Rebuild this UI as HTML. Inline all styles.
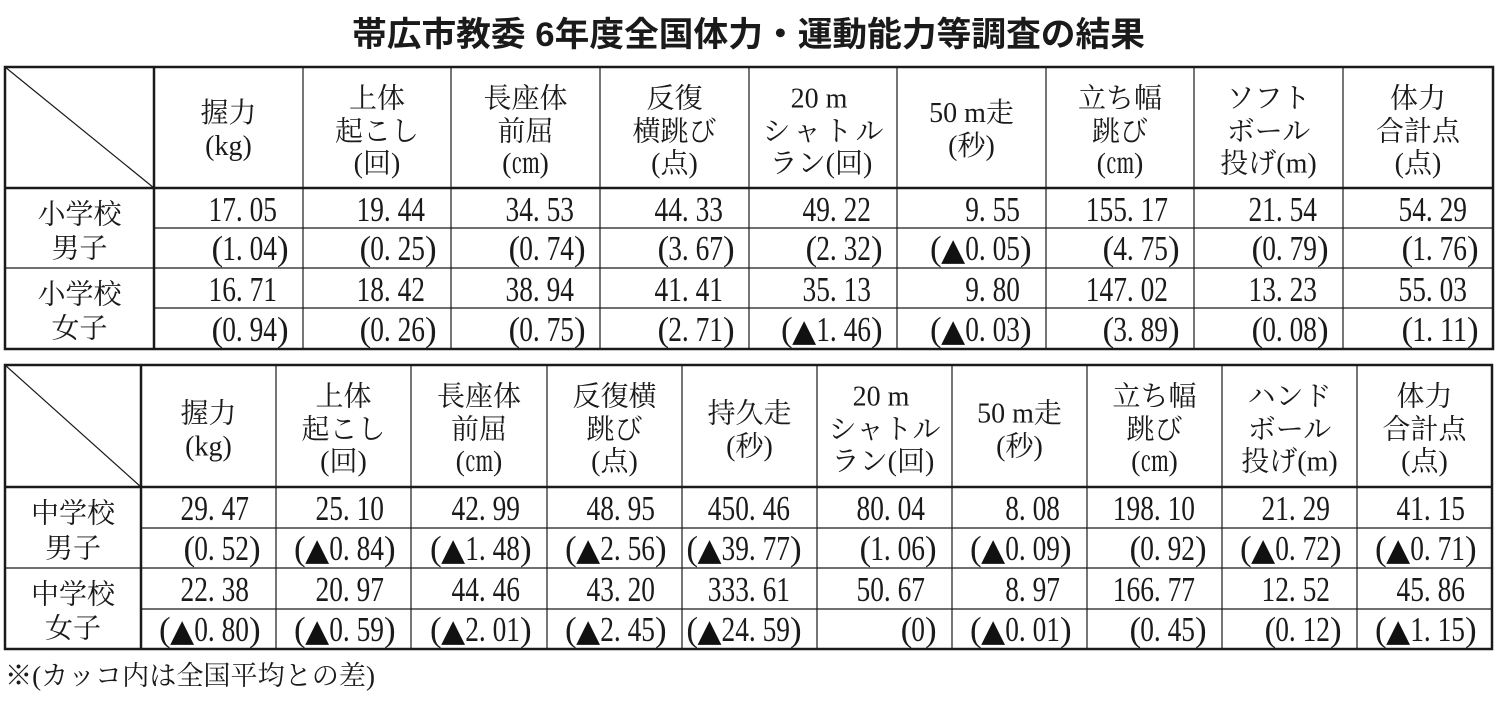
<!DOCTYPE html>
<html><head><meta charset="utf-8">
<style>
html,body{margin:0;padding:0;background:#fff;}
svg{display:block;}
.n{font-family:"Liberation Serif",serif;font-size:35px;fill:#1a1a1a;}
.e{text-anchor:end;}
.t{font-family:"DejaVu Sans",sans-serif;font-size:31px;fill:#111;}
.h{font-family:"Liberation Serif","Noto Serif CJK SC",serif;font-size:28px;fill:#1a1a1a;text-anchor:middle;}
.hs{font-family:"Liberation Serif","Noto Serif CJK SC",serif;font-size:28px;fill:#1a1a1a;}
.ti{font-family:"Liberation Sans","Noto Sans CJK JP",sans-serif;font-size:34px;font-weight:700;fill:#1a1a1a;}
.f{font-family:"Liberation Serif","Noto Serif CJK SC",serif;font-size:27px;fill:#1a1a1a;}
.L{stroke:#1a1a1a;fill:none;}
</style></head><body>
<svg width="1500" height="702" viewBox="0 0 1500 702" xmlns="http://www.w3.org/2000/svg">
<rect x="0" y="0" width="1500" height="702" fill="#fff"/>
<text class="ti" x="352" y="46" textLength="793" lengthAdjust="spacingAndGlyphs">帯広市教委 6年度全国体力・運動能力等調査の結果</text>

<!-- TABLE 1 lines -->
<g class="L" stroke-width="1.2">
<line x1="303" y1="67" x2="303" y2="349"/><line x1="451" y1="67" x2="451" y2="349"/>
<line x1="600" y1="67" x2="600" y2="349"/><line x1="749" y1="67" x2="749" y2="349"/>
<line x1="897" y1="67" x2="897" y2="349"/><line x1="1046" y1="67" x2="1046" y2="349"/>
<line x1="1194" y1="67" x2="1194" y2="349"/><line x1="1343" y1="67" x2="1343" y2="349"/>
<line x1="154" y1="228" x2="1493" y2="228"/><line x1="154" y1="308" x2="1493" y2="308"/>
<line x1="5" y1="268" x2="1493" y2="268"/>
<line x1="5" y1="67" x2="154" y2="188"/>
</g>
<g class="L" stroke-width="2.5">
<rect x="5" y="67" width="1488" height="282"/>
<line x1="5" y1="188" x2="1493" y2="188"/>
<line x1="154" y1="67" x2="154" y2="349"/>
</g>

<!-- TABLE 1 headers -->
<text class="h" x="228.5" y="122">握力</text><text class="h" x="228.5" y="155">(kg)</text>
<text class="h" x="377" y="107.5">上体</text><text class="h" x="377" y="140.5">起こし</text><text class="h" x="377" y="172.5">(回)</text>
<text class="h" x="525.5" y="107.5">長座体</text><text class="h" x="525.5" y="140.5">前屈</text><text class="h" x="525.5" y="172.5">(㎝)</text>
<text class="h" x="674.5" y="107.5">反復</text><text class="h" x="674.5" y="140.5">横跳び</text><text class="h" x="674.5" y="172.5">(点)</text>
<text class="h" x="819" y="107.5">20 m</text><text class="hs" x="762.5" y="140.5" textLength="121" lengthAdjust="spacing">シャトル</text><text class="h" x="821" y="172.5">ラン(回)</text>
<text class="h" x="971.5" y="122">50 m走</text><text class="h" x="971.5" y="155">(秒)</text>
<text class="h" x="1120" y="107.5">立ち幅</text><text class="h" x="1120" y="140.5">跳び</text><text class="h" x="1120" y="172.5">(㎝)</text>
<text class="h" x="1268.5" y="107.5">ソフト</text><text class="h" x="1268.5" y="140.5">ボール</text><text class="h" x="1268.5" y="172.5">投げ(m)</text>
<text class="h" x="1418" y="107.5">体力</text><text class="h" x="1418" y="140.5">合計点</text><text class="h" x="1418" y="172.5">(点)</text>

<!-- TABLE 1 row labels -->
<text class="h" x="79.5" y="223.5">小学校</text><text class="h" x="79.5" y="257.5">男子</text>
<text class="h" x="79.5" y="303.5">小学校</text><text class="h" x="79.5" y="337.5">女子</text>

<!-- TABLE 1 row A -->
<g class="n">
<text x="208.5" y="221" textLength="68.5" lengthAdjust="spacingAndGlyphs">17. 05</text>
<text x="356.5" y="221" textLength="68.5" lengthAdjust="spacingAndGlyphs">19. 44</text>
<text x="505.5" y="221" textLength="68.5" lengthAdjust="spacingAndGlyphs">34. 53</text>
<text x="654.5" y="221" textLength="68.5" lengthAdjust="spacingAndGlyphs">44. 33</text>
<text x="802.5" y="221" textLength="68.5" lengthAdjust="spacingAndGlyphs">49. 22</text>
<text x="965.2" y="221" textLength="54.8" lengthAdjust="spacingAndGlyphs">9. 55</text>
<text x="1085.8" y="221" textLength="82.2" lengthAdjust="spacingAndGlyphs">155. 17</text>
<text x="1248.5" y="221" textLength="68.5" lengthAdjust="spacingAndGlyphs">21. 54</text>
<text x="1398.5" y="221" textLength="68.5" lengthAdjust="spacingAndGlyphs">54. 29</text>
</g>
<!-- TABLE 1 row B -->
<g class="n">
<text class="e" x="223.2" y="260">(</text><text x="222.2" y="260" textLength="54.8" lengthAdjust="spacingAndGlyphs">1. 04</text><text x="277" y="260">)</text>
<text class="e" x="371.2" y="260">(</text><text x="370.2" y="260" textLength="54.8" lengthAdjust="spacingAndGlyphs">0. 25</text><text x="425" y="260">)</text>
<text class="e" x="520.2" y="260">(</text><text x="519.2" y="260" textLength="54.8" lengthAdjust="spacingAndGlyphs">0. 74</text><text x="574" y="260">)</text>
<text class="e" x="669.2" y="260">(</text><text x="668.2" y="260" textLength="54.8" lengthAdjust="spacingAndGlyphs">3. 67</text><text x="723" y="260">)</text>
<text class="e" x="817.2" y="260">(</text><text x="816.2" y="260" textLength="54.8" lengthAdjust="spacingAndGlyphs">2. 32</text><text x="871" y="260">)</text>
<text class="e" x="941.7" y="260">(</text><text class="t" x="941.2" y="260" textLength="24" lengthAdjust="spacingAndGlyphs">▲</text><text x="965.2" y="260" textLength="54.8" lengthAdjust="spacingAndGlyphs">0. 05</text><text x="1020" y="260">)</text>
<text class="e" x="1114.2" y="260">(</text><text x="1113.2" y="260" textLength="54.8" lengthAdjust="spacingAndGlyphs">4. 75</text><text x="1168" y="260">)</text>
<text class="e" x="1263.2" y="260">(</text><text x="1262.2" y="260" textLength="54.8" lengthAdjust="spacingAndGlyphs">0. 79</text><text x="1317" y="260">)</text>
<text class="e" x="1413.2" y="260">(</text><text x="1412.2" y="260" textLength="54.8" lengthAdjust="spacingAndGlyphs">1. 76</text><text x="1467" y="260">)</text>
</g>
<!-- TABLE 1 row C -->
<g class="n">
<text x="208.5" y="301" textLength="68.5" lengthAdjust="spacingAndGlyphs">16. 71</text>
<text x="356.5" y="301" textLength="68.5" lengthAdjust="spacingAndGlyphs">18. 42</text>
<text x="505.5" y="301" textLength="68.5" lengthAdjust="spacingAndGlyphs">38. 94</text>
<text x="654.5" y="301" textLength="68.5" lengthAdjust="spacingAndGlyphs">41. 41</text>
<text x="802.5" y="301" textLength="68.5" lengthAdjust="spacingAndGlyphs">35. 13</text>
<text x="965.2" y="301" textLength="54.8" lengthAdjust="spacingAndGlyphs">9. 80</text>
<text x="1085.8" y="301" textLength="82.2" lengthAdjust="spacingAndGlyphs">147. 02</text>
<text x="1248.5" y="301" textLength="68.5" lengthAdjust="spacingAndGlyphs">13. 23</text>
<text x="1398.5" y="301" textLength="68.5" lengthAdjust="spacingAndGlyphs">55. 03</text>
</g>
<!-- TABLE 1 row D -->
<g class="n">
<text class="e" x="223.2" y="341">(</text><text x="222.2" y="341" textLength="54.8" lengthAdjust="spacingAndGlyphs">0. 94</text><text x="277" y="341">)</text>
<text class="e" x="371.2" y="341">(</text><text x="370.2" y="341" textLength="54.8" lengthAdjust="spacingAndGlyphs">0. 26</text><text x="425" y="341">)</text>
<text class="e" x="520.2" y="341">(</text><text x="519.2" y="341" textLength="54.8" lengthAdjust="spacingAndGlyphs">0. 75</text><text x="574" y="341">)</text>
<text class="e" x="669.2" y="341">(</text><text x="668.2" y="341" textLength="54.8" lengthAdjust="spacingAndGlyphs">2. 71</text><text x="723" y="341">)</text>
<text class="e" x="792.7" y="341">(</text><text class="t" x="792.2" y="341" textLength="24" lengthAdjust="spacingAndGlyphs">▲</text><text x="816.2" y="341" textLength="54.8" lengthAdjust="spacingAndGlyphs">1. 46</text><text x="871" y="341">)</text>
<text class="e" x="941.7" y="341">(</text><text class="t" x="941.2" y="341" textLength="24" lengthAdjust="spacingAndGlyphs">▲</text><text x="965.2" y="341" textLength="54.8" lengthAdjust="spacingAndGlyphs">0. 03</text><text x="1020" y="341">)</text>
<text class="e" x="1114.2" y="341">(</text><text x="1113.2" y="341" textLength="54.8" lengthAdjust="spacingAndGlyphs">3. 89</text><text x="1168" y="341">)</text>
<text class="e" x="1263.2" y="341">(</text><text x="1262.2" y="341" textLength="54.8" lengthAdjust="spacingAndGlyphs">0. 08</text><text x="1317" y="341">)</text>
<text class="e" x="1413.2" y="341">(</text><text x="1412.2" y="341" textLength="54.8" lengthAdjust="spacingAndGlyphs">1. 11</text><text x="1467" y="341">)</text>
</g>

<!-- TABLE 2 lines -->
<g class="L" stroke-width="1.2">
<line x1="276" y1="365" x2="276" y2="649"/><line x1="411" y1="365" x2="411" y2="649"/>
<line x1="547" y1="365" x2="547" y2="649"/><line x1="682" y1="365" x2="682" y2="649"/>
<line x1="817" y1="365" x2="817" y2="649"/><line x1="952" y1="365" x2="952" y2="649"/>
<line x1="1087" y1="365" x2="1087" y2="649"/><line x1="1222" y1="365" x2="1222" y2="649"/>
<line x1="1357" y1="365" x2="1357" y2="649"/>
<line x1="141" y1="528" x2="1492" y2="528"/><line x1="141" y1="609" x2="1492" y2="609"/>
<line x1="5" y1="568" x2="1492" y2="568"/>
<line x1="5" y1="365" x2="141" y2="487"/>
</g>
<g class="L" stroke-width="2.5">
<rect x="5" y="365" width="1487" height="284"/>
<line x1="5" y1="487" x2="1492" y2="487"/>
<line x1="141" y1="365" x2="141" y2="649"/>
</g>

<!-- TABLE 2 headers -->
<text class="h" x="208.5" y="422.5">握力</text><text class="h" x="208.5" y="455.5">(kg)</text>
<text class="h" x="343.5" y="405.5">上体</text><text class="h" x="343.5" y="438.5">起こし</text><text class="h" x="343.5" y="470.5">(回)</text>
<text class="h" x="479" y="405.5">長座体</text><text class="h" x="479" y="438.5">前屈</text><text class="h" x="479" y="470.5">(㎝)</text>
<text class="h" x="614.5" y="405.5">反復横</text><text class="h" x="614.5" y="438.5">跳び</text><text class="h" x="614.5" y="470.5">(点)</text>
<text class="h" x="749.5" y="422.5">持久走</text><text class="h" x="749.5" y="455.5">(秒)</text>
<text class="h" x="881" y="405.5">20 m</text><text class="hs" x="828.5" y="438.5" textLength="112" lengthAdjust="spacing">シャトル</text><text class="h" x="883" y="470.5">ラン(回)</text>
<text class="h" x="1019.5" y="422.5">50 m走</text><text class="h" x="1019.5" y="455.5">(秒)</text>
<text class="h" x="1154.5" y="405.5">立ち幅</text><text class="h" x="1154.5" y="438.5">跳び</text><text class="h" x="1154.5" y="470.5">(㎝)</text>
<text class="h" x="1289.5" y="405.5">ハンド</text><text class="h" x="1289.5" y="438.5">ボール</text><text class="h" x="1289.5" y="470.5">投げ(m)</text>
<text class="h" x="1424.5" y="405.5">体力</text><text class="h" x="1424.5" y="438.5">合計点</text><text class="h" x="1424.5" y="470.5">(点)</text>

<!-- TABLE 2 row labels -->
<text class="h" x="73" y="522.5">中学校</text><text class="h" x="73" y="557.5">男子</text>
<text class="h" x="73" y="603.5">中学校</text><text class="h" x="73" y="637.5">女子</text>

<!-- TABLE 2 row A -->
<g class="n">
<text x="180.5" y="520" textLength="68.5" lengthAdjust="spacingAndGlyphs">29. 47</text>
<text x="315.5" y="520" textLength="68.5" lengthAdjust="spacingAndGlyphs">25. 10</text>
<text x="451.5" y="520" textLength="68.5" lengthAdjust="spacingAndGlyphs">42. 99</text>
<text x="586.5" y="520" textLength="68.5" lengthAdjust="spacingAndGlyphs">48. 95</text>
<text x="707.8" y="520" textLength="82.2" lengthAdjust="spacingAndGlyphs">450. 46</text>
<text x="856.5" y="520" textLength="68.5" lengthAdjust="spacingAndGlyphs">80. 04</text>
<text x="1005.2" y="520" textLength="54.8" lengthAdjust="spacingAndGlyphs">8. 08</text>
<text x="1112.8" y="520" textLength="82.2" lengthAdjust="spacingAndGlyphs">198. 10</text>
<text x="1261.5" y="520" textLength="68.5" lengthAdjust="spacingAndGlyphs">21. 29</text>
<text x="1396.5" y="520" textLength="68.5" lengthAdjust="spacingAndGlyphs">41. 15</text>
</g>
<!-- TABLE 2 row B -->
<g class="n">
<text class="e" x="195.2" y="560">(</text><text x="194.2" y="560" textLength="54.8" lengthAdjust="spacingAndGlyphs">0. 52</text><text x="249" y="560">)</text>
<text class="e" x="305.7" y="560">(</text><text class="t" x="305.2" y="560" textLength="24" lengthAdjust="spacingAndGlyphs">▲</text><text x="329.2" y="560" textLength="54.8" lengthAdjust="spacingAndGlyphs">0. 84</text><text x="384" y="560">)</text>
<text class="e" x="441.7" y="560">(</text><text class="t" x="441.2" y="560" textLength="24" lengthAdjust="spacingAndGlyphs">▲</text><text x="465.2" y="560" textLength="54.8" lengthAdjust="spacingAndGlyphs">1. 48</text><text x="520" y="560">)</text>
<text class="e" x="576.7" y="560">(</text><text class="t" x="576.2" y="560" textLength="24" lengthAdjust="spacingAndGlyphs">▲</text><text x="600.2" y="560" textLength="54.8" lengthAdjust="spacingAndGlyphs">2. 56</text><text x="655" y="560">)</text>
<text class="e" x="698" y="560">(</text><text class="t" x="697.5" y="560" textLength="24" lengthAdjust="spacingAndGlyphs">▲</text><text x="721.5" y="560" textLength="68.5" lengthAdjust="spacingAndGlyphs">39. 77</text><text x="790" y="560">)</text>
<text class="e" x="871.2" y="560">(</text><text x="870.2" y="560" textLength="54.8" lengthAdjust="spacingAndGlyphs">1. 06</text><text x="925" y="560">)</text>
<text class="e" x="981.7" y="560">(</text><text class="t" x="981.2" y="560" textLength="24" lengthAdjust="spacingAndGlyphs">▲</text><text x="1005.2" y="560" textLength="54.8" lengthAdjust="spacingAndGlyphs">0. 09</text><text x="1060" y="560">)</text>
<text class="e" x="1141.2" y="560">(</text><text x="1140.2" y="560" textLength="54.8" lengthAdjust="spacingAndGlyphs">0. 92</text><text x="1195" y="560">)</text>
<text class="e" x="1251.7" y="560">(</text><text class="t" x="1251.2" y="560" textLength="24" lengthAdjust="spacingAndGlyphs">▲</text><text x="1275.2" y="560" textLength="54.8" lengthAdjust="spacingAndGlyphs">0. 72</text><text x="1330" y="560">)</text>
<text class="e" x="1386.7" y="560">(</text><text class="t" x="1386.2" y="560" textLength="24" lengthAdjust="spacingAndGlyphs">▲</text><text x="1410.2" y="560" textLength="54.8" lengthAdjust="spacingAndGlyphs">0. 71</text><text x="1465" y="560">)</text>
</g>
<!-- TABLE 2 row C -->
<g class="n">
<text x="180.5" y="601" textLength="68.5" lengthAdjust="spacingAndGlyphs">22. 38</text>
<text x="315.5" y="601" textLength="68.5" lengthAdjust="spacingAndGlyphs">20. 97</text>
<text x="451.5" y="601" textLength="68.5" lengthAdjust="spacingAndGlyphs">44. 46</text>
<text x="586.5" y="601" textLength="68.5" lengthAdjust="spacingAndGlyphs">43. 20</text>
<text x="707.8" y="601" textLength="82.2" lengthAdjust="spacingAndGlyphs">333. 61</text>
<text x="856.5" y="601" textLength="68.5" lengthAdjust="spacingAndGlyphs">50. 67</text>
<text x="1005.2" y="601" textLength="54.8" lengthAdjust="spacingAndGlyphs">8. 97</text>
<text x="1112.8" y="601" textLength="82.2" lengthAdjust="spacingAndGlyphs">166. 77</text>
<text x="1261.5" y="601" textLength="68.5" lengthAdjust="spacingAndGlyphs">12. 52</text>
<text x="1396.5" y="601" textLength="68.5" lengthAdjust="spacingAndGlyphs">45. 86</text>
</g>
<!-- TABLE 2 row D -->
<g class="n">
<text class="e" x="170.7" y="641">(</text><text class="t" x="170.2" y="641" textLength="24" lengthAdjust="spacingAndGlyphs">▲</text><text x="194.2" y="641" textLength="54.8" lengthAdjust="spacingAndGlyphs">0. 80</text><text x="249" y="641">)</text>
<text class="e" x="305.7" y="641">(</text><text class="t" x="305.2" y="641" textLength="24" lengthAdjust="spacingAndGlyphs">▲</text><text x="329.2" y="641" textLength="54.8" lengthAdjust="spacingAndGlyphs">0. 59</text><text x="384" y="641">)</text>
<text class="e" x="441.7" y="641">(</text><text class="t" x="441.2" y="641" textLength="24" lengthAdjust="spacingAndGlyphs">▲</text><text x="465.2" y="641" textLength="54.8" lengthAdjust="spacingAndGlyphs">2. 01</text><text x="520" y="641">)</text>
<text class="e" x="576.7" y="641">(</text><text class="t" x="576.2" y="641" textLength="24" lengthAdjust="spacingAndGlyphs">▲</text><text x="600.2" y="641" textLength="54.8" lengthAdjust="spacingAndGlyphs">2. 45</text><text x="655" y="641">)</text>
<text class="e" x="698" y="641">(</text><text class="t" x="697.5" y="641" textLength="24" lengthAdjust="spacingAndGlyphs">▲</text><text x="721.5" y="641" textLength="68.5" lengthAdjust="spacingAndGlyphs">24. 59</text><text x="790" y="641">)</text>
<text class="e" x="912.3" y="641">(</text><text x="911.3" y="641" textLength="13.7" lengthAdjust="spacingAndGlyphs">0</text><text x="925" y="641">)</text>
<text class="e" x="981.7" y="641">(</text><text class="t" x="981.2" y="641" textLength="24" lengthAdjust="spacingAndGlyphs">▲</text><text x="1005.2" y="641" textLength="54.8" lengthAdjust="spacingAndGlyphs">0. 01</text><text x="1060" y="641">)</text>
<text class="e" x="1141.2" y="641">(</text><text x="1140.2" y="641" textLength="54.8" lengthAdjust="spacingAndGlyphs">0. 45</text><text x="1195" y="641">)</text>
<text class="e" x="1276.2" y="641">(</text><text x="1275.2" y="641" textLength="54.8" lengthAdjust="spacingAndGlyphs">0. 12</text><text x="1330" y="641">)</text>
<text class="e" x="1386.7" y="641">(</text><text class="t" x="1386.2" y="641" textLength="24" lengthAdjust="spacingAndGlyphs">▲</text><text x="1410.2" y="641" textLength="54.8" lengthAdjust="spacingAndGlyphs">1. 15</text><text x="1465" y="641">)</text>
</g>

<text class="f" x="5" y="685" textLength="370" lengthAdjust="spacingAndGlyphs">※(カッコ内は全国平均との差)</text>
</svg>
</body></html>
